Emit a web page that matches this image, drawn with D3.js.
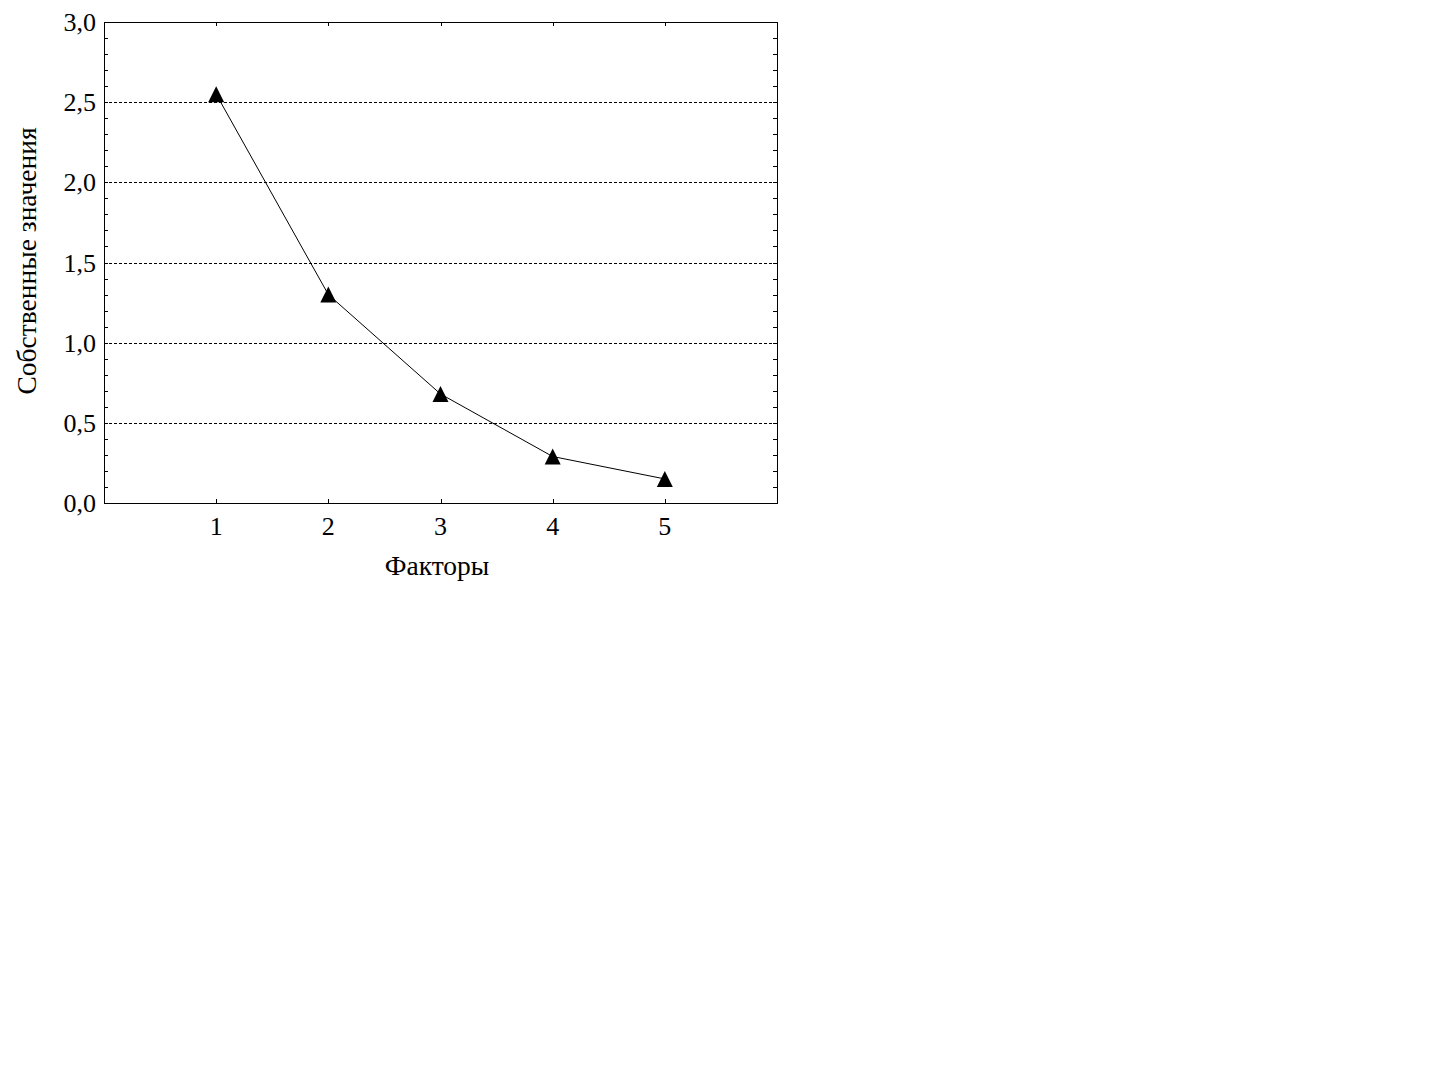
<!DOCTYPE html>
<html><head><meta charset="utf-8">
<script src="https://cdn.jsdelivr.net/npm/d3@7"></script>
<style>body{margin:0;background:#fff}</style>
</head><body>
<svg id="c" width="1450" height="1085"></svg>
<script>
const factors = [1, 2, 3, 4, 5];
const eigenvalues = [2.55, 1.30, 0.68, 0.29, 0.15];
const yTicks = [0, 0.5, 1.0, 1.5, 2.0, 2.5, 3.0];
const yMinorTicks = d3.range(0, 31).map(d => d / 10);
const xLabel = "Факторы";
const yLabel = "Собственные значения";

const svg = d3.select("#c");
const pL = 104, pR = 777, pT = 22, pB = 503;
const x = d3.scaleLinear().domain([0, 6]).range([pL, pR]);
const y = d3.scaleLinear().domain([0, 3]).range([pB, pT]);
const font = "'Liberation Serif','Times New Roman',serif";

// gridlines
svg.append("g").selectAll("line").data(yTicks.filter(d => d > 0 && d < 3)).join("line")
  .attr("x1", pL).attr("x2", pR)
  .attr("y1", d => Math.round(y(d)) + 0.5).attr("y2", d => Math.round(y(d)) + 0.5)
  .attr("stroke", "#000").attr("stroke-width", 1).attr("stroke-dasharray", "3,2");

// minor ticks left & right
const tl = 4;
const tg = svg.append("g").attr("stroke", "#000").attr("stroke-width", 1);
yMinorTicks.forEach(d => {
  const yy = Math.round(y(d)) + 0.5;
  tg.append("line").attr("x1", pL).attr("x2", pL + tl).attr("y1", yy).attr("y2", yy);
  tg.append("line").attr("x1", pR - tl).attr("x2", pR).attr("y1", yy).attr("y2", yy);
});
factors.forEach(d => {
  const xx = Math.round(x(d)) + 0.5;
  tg.append("line").attr("x1", xx).attr("x2", xx).attr("y1", pB).attr("y2", pB - tl);
  tg.append("line").attr("x1", xx).attr("x2", xx).attr("y1", pT).attr("y2", pT + tl);
});

// frame
svg.append("rect").attr("x", pL + 0.5).attr("y", pT + 0.5)
  .attr("width", pR - pL).attr("height", pB - pT)
  .attr("fill", "none").attr("stroke", "#000").attr("stroke-width", 1);

// y tick labels
svg.append("g").selectAll("text").data(yTicks).join("text")
  .attr("x", 96).attr("y", d => y(d)).attr("dy", "0.35em")
  .attr("text-anchor", "end").attr("font-family", font).attr("font-size", 26)
  .text(d => d3.format(".1f")(d).replace(".", ","));

// x tick labels
svg.append("g").selectAll("text").data(factors).join("text")
  .attr("x", d => x(d)).attr("y", 535)
  .attr("text-anchor", "middle").attr("font-family", font).attr("font-size", 26)
  .text(d => d);

// axis titles
svg.append("text").attr("x", 437).attr("y", 575)
  .attr("text-anchor", "middle").attr("font-family", font).attr("font-size", 27.5).text(xLabel);
svg.append("text").attr("transform", "translate(36,261) rotate(-90)")
  .attr("text-anchor", "middle").attr("font-family", font).attr("font-size", 27.5).text(yLabel);

// line
const data = factors.map((f, i) => [f, eigenvalues[i]]);
svg.append("path").datum(data)
  .attr("d", d3.line().x(d => x(d[0])).y(d => y(d[1])))
  .attr("fill", "none").attr("stroke", "#000").attr("stroke-width", 1);

// triangles
svg.append("g").selectAll("path").data(data).join("path")
  .attr("transform", d => `translate(${x(d[0])},${y(d[1])})`)
  .attr("d", "M0,-8L8,8L-8,8Z").attr("fill", "#000");
</script>
</body></html>
